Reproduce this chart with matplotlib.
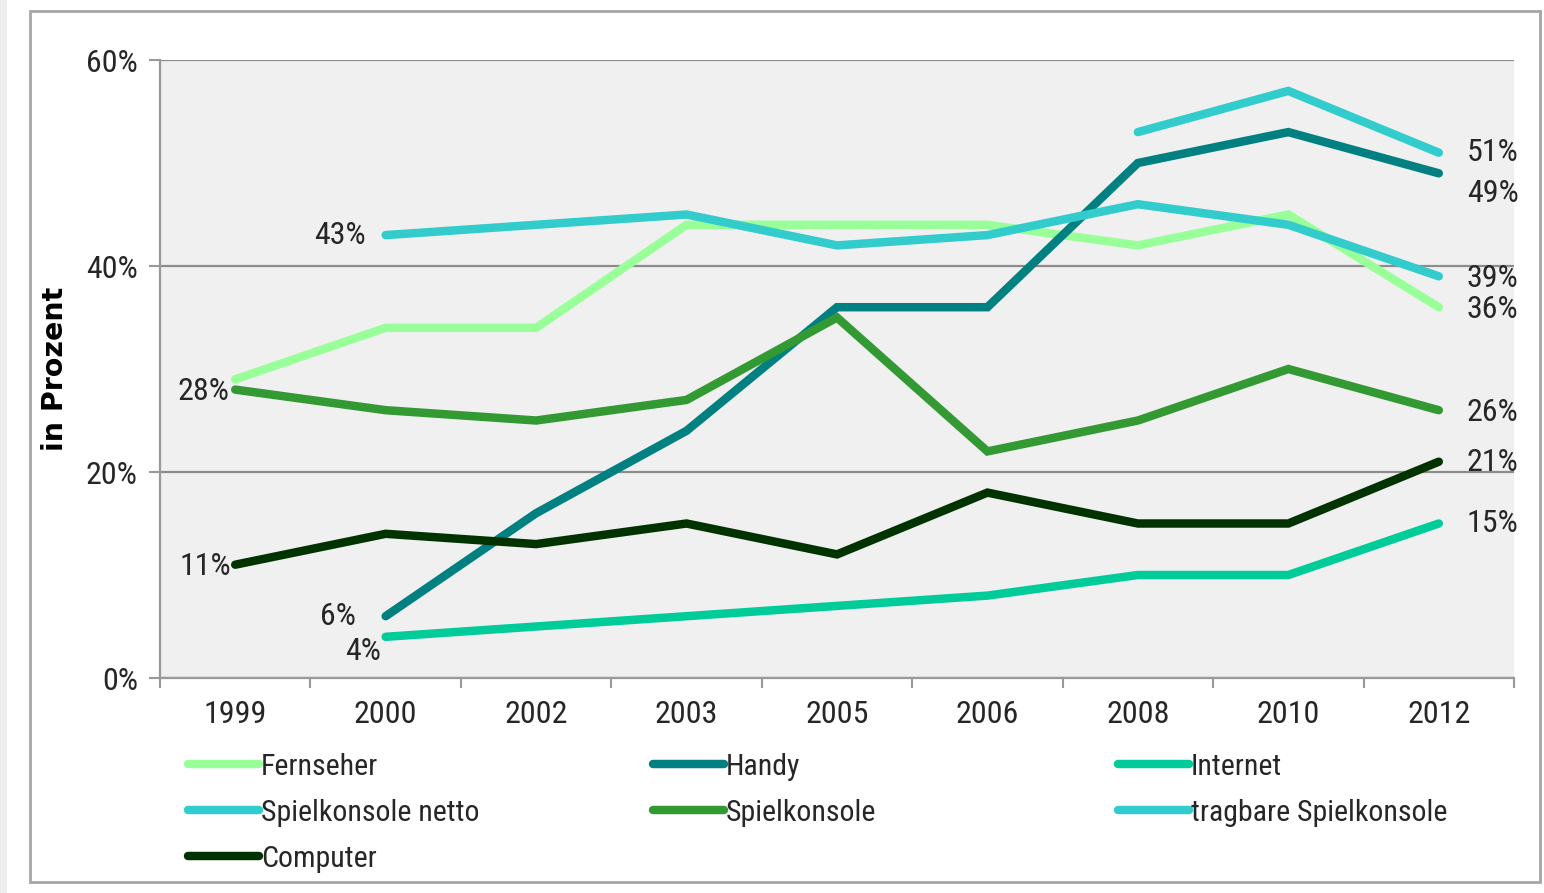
import matplotlib
matplotlib.use('Agg')
import matplotlib.pyplot as plt
from matplotlib.patches import Rectangle
import numpy as np

plt.rcParams['font.family'] = ['Roboto Condensed', 'DejaVu Sans']

# Daten (Anteil in Prozent, None = nicht erhoben)
jahre = ['1999', '2000', '2002', '2003', '2005', '2006', '2008', '2010', '2012']
fernseher = [29, 34, 34, 44, 44, 44, 42, 45, 36]
handy = [None, 6, 16, 24, 36, 36, 50, 53, 49]
internet = [None, 4, 5, 6, 7, 8, 10, 10, 15]
spielkonsole_netto = [None, 43, 44, 45, 42, 43, 46, 44, 39]
spielkonsole = [28, 26, 25, 27, 35, 22, 25, 30, 26]
tragbare = [None, None, None, None, None, None, 53, 57, 51]
computer = [11, 14, 13, 15, 12, 18, 15, 15, 21]

reihen = [
    ('Fernseher', fernseher, '#99FF99'),
    ('Handy', handy, '#008080'),
    ('Internet', internet, '#00CC99'),
    ('Spielkonsole netto', spielkonsole_netto, '#33CCCC'),
    ('Spielkonsole', spielkonsole, '#339933'),
    ('tragbare Spielkonsole', tragbare, '#33CCCC'),
    ('Computer', computer, '#003300'),
]

textfarbe = '#262626'
schrift = 23
fig = plt.figure(figsize=(15.44, 8.93), dpi=100)

# Rahmen um das ganze Diagramm
fig.patches.append(Rectangle((0, 0), 7 / 1544, 1, transform=fig.transFigure,
                             facecolor='#eeeeee', edgecolor='none'))
fig.patches.append(Rectangle((30 / 1544, 1 - 882 / 893), 1510 / 1544, 871 / 893,
                             transform=fig.transFigure, facecolor='none',
                             edgecolor='#a6a6a6', linewidth=2))

ax = fig.add_axes([160 / 1544, 1 - 678 / 893, 1354 / 1544, 618 / 893])
ax.set_facecolor('#f0f0f0')

x = np.arange(len(jahre))
linien = {}
for name, werte, farbe in reihen:
    y = np.array([np.nan if v is None else v for v in werte], dtype=float)
    l, = ax.plot(x, y, color=farbe, lw=6.1, solid_capstyle='round',
                 solid_joinstyle='miter', label=name, zorder=3)
    linien[name] = l

ax.set_xlim(-0.5, len(jahre) - 0.5)
ax.set_ylim(0, 60)
ax.set_yticks([0, 20, 40, 60])
ax.set_yticklabels(['0%', '20%', '40%', '60%'])
ax.set_xticks(x)
ax.set_xticklabels(jahre)
ax.set_xticks(np.arange(-0.5, len(jahre)), minor=True)
ax.tick_params(axis='x', which='major', length=0, pad=15.5, labelsize=schrift,
               labelcolor=textfarbe)
ax.tick_params(axis='x', which='minor', length=7, width=1.5, color='#999999',
               direction='out')
ax.tick_params(axis='y', length=8, width=1.5, color='#999999', pad=8,
               labelsize=schrift, labelcolor=textfarbe)
ax.grid(axis='y', color='#8c8c8c', lw=1.6, zorder=1)
for s in ['top', 'right']:
    ax.spines[s].set_visible(False)
for s in ['left', 'bottom']:
    ax.spines[s].set_color('#999999')
    ax.spines[s].set_linewidth(1.6)

ax.set_ylabel('in Prozent', family='DejaVu Sans', fontweight='bold',
              fontsize=20.5, color='black')
ax.yaxis.set_label_coords(-(160 - 69) / 1354, 0.5)

# Werte an den Linienenden
def wert(i, v, dx, dy, ha='left'):
    ax.annotate(f'{v}%', (x[i], v), xytext=(dx, dy), textcoords='offset pixels',
                ha=ha, va='center', fontsize=schrift, color=textfarbe)

letzter = len(jahre) - 1
wert(letzter, tragbare[-1], 28, 0)
wert(letzter, handy[-1], 28, -20)
wert(letzter, spielkonsole_netto[-1], 28, -2)
wert(letzter, fernseher[-1], 28, -2)
wert(letzter, spielkonsole[-1], 28, -2)
wert(letzter, computer[-1], 28, -1)
wert(letzter, internet[-1], 28, 0)
wert(0, spielkonsole[0], -6, -2, 'right')
wert(0, computer[0], -4, -2, 'right')
wert(1, spielkonsole_netto[1], -20, 0, 'right')
wert(1, handy[1], -30, 0, 'right')
wert(1, internet[1], -5, -15, 'right')

# Legende in drei Spalten
spalten = [
    (['Fernseher', 'Spielkonsole netto', 'Computer'], 185),
    (['Handy', 'Spielkonsole'], 650),
    (['Internet', 'tragbare Spielkonsole'], 1115),
]
for namen, xpos in spalten:
    fig.legend([linien[n] for n in namen], namen, loc='upper left',
               bbox_to_anchor=(xpos / 1544 - 0.006, 1 - 741 / 893),
               frameon=False, fontsize=21.5, handlelength=2.4,
               handletextpad=0.05, labelspacing=0.6, borderaxespad=0,
               labelcolor=textfarbe)

fig.savefig('out.png', dpi=100)
